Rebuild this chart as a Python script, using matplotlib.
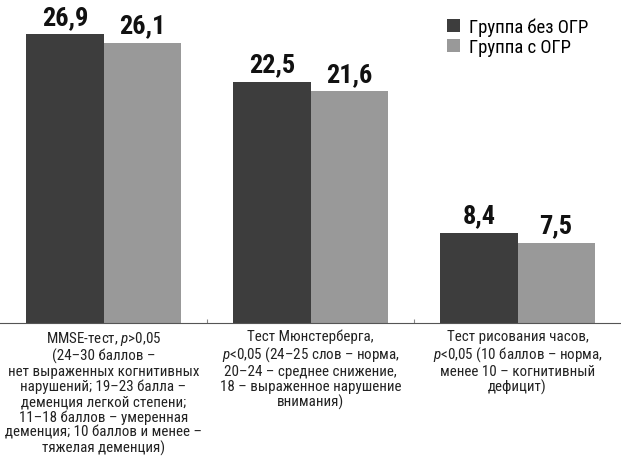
import numpy as np
import matplotlib.pyplot as plt

FONT = 'Roboto Condensed'
plt.rcParams['font.family'] = [FONT, 'DejaVu Sans']
plt.rcParams['mathtext.fontset'] = 'custom'
plt.rcParams['mathtext.it'] = FONT + ':italic'
plt.rcParams['mathtext.rm'] = FONT

categories = [
    'MMSE-тест, $\\it{p}$>0,05\n(24–30 баллов –\nнет выраженных когнитивных\nнарушений; 19–23 балла –\nдеменция легкой степени;\n11–18 баллов – умеренная\nдеменция; 10 баллов и менее –\nтяжелая деменция)',
    'Тест Мюнстерберга,\n$\\it{p}$<0,05 (24–25 слов – норма,\n20–24 – среднее снижение,\n18 – выраженное нарушение\nвнимания)',
    'Тест рисования часов,\n$\\it{p}$<0,05 (10 баллов – норма,\nменее 10 – когнитивный\nдефицит)',
]
without_ogr = [26.9, 22.5, 8.4]
with_ogr = [26.1, 21.6, 7.5]
series_names = ['Группа без ОГР', 'Группа с ОГР']

fig = plt.figure(figsize=(6.21, 4.64), dpi=100)
ax = fig.add_axes([0, 1 - 324 / 464, 1, 324 / 464])

x = np.arange(len(categories))
w = 0.372
b1 = ax.bar(x - w / 2, without_ogr, w, color='#3d3d3d', label=series_names[0])
b2 = ax.bar(x + w / 2, with_ogr, w, color='#999999', label=series_names[1])

for bars, vals in [(b1, without_ogr), (b2, with_ogr)]:
    for r, v in zip(bars, vals):
        ax.text(r.get_x() + r.get_width() / 2, v + 0.5, f'{v:.1f}'.replace('.', ','),
                ha='center', va='bottom', fontsize=19, fontweight='bold', color='#111111')

ax.set_xlim(-0.5, 2.5)
ax.set_ylim(0, 30.2)
for s in ['top', 'right', 'left']:
    ax.spines[s].set_visible(False)
ax.spines['bottom'].set_color('#555555')
ax.set_yticks([])
ax.set_xticks([0.5, 1.5])
ax.set_xticklabels([])
ax.tick_params(axis='x', direction='in', length=3, color='#888888')

for xi, lab in zip(x, categories):
    ax.text(xi, -0.55, lab, ha='center', va='top', fontsize=10.8, color='#222222',
            linespacing=1.08)

ax.legend(loc='upper right', bbox_to_anchor=(0.975, 0.995), frameon=False, fontsize=13.5,
          handlelength=0.7, handleheight=0.7, handletextpad=0.5, labelspacing=0.1)

fig.savefig('out.png', dpi=100)
